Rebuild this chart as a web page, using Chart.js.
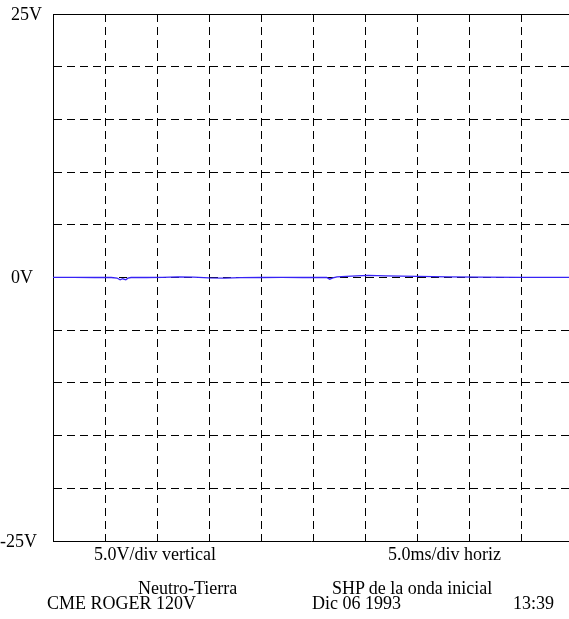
<!DOCTYPE html>
<html lang="es">
  <head>
    <meta charset="UTF-8" />
    <title>Neutro-Tierra</title>
    <style>
      html, body { margin: 0; padding: 0; background: #fff; overflow: hidden; }
      .wrap { position: relative; width: 569px; height: 619px; }
      .cap {
        position: absolute;
        font-family: "Liberation Serif", "Times New Roman", serif;
        font-size: 18px;
        line-height: 18px;
        color: #000;
        white-space: nowrap;
      }
    </style>
  </head>
  <body>
    <div class="wrap">
      <canvas id="scope" width="569" height="619"></canvas>
      <div class="cap" style="left:94px;top:545px">5.0V/div vertical</div>
      <div class="cap" style="left:388px;top:545px">5.0ms/div horiz</div>
      <div class="cap" style="left:138px;top:579px">Neutro-Tierra</div>
      <div class="cap" style="left:332px;top:579px">SHP de la onda inicial</div>
      <div class="cap" style="left:47px;top:594px">CME ROGER 120V</div>
      <div class="cap" style="left:312px;top:594px">Dic 06 1993</div>
      <div class="cap" style="left:513px;top:594px">13:39</div>
    </div>
    <script src="https://cdn.jsdelivr.net/npm/chart.js"></script>
    <script>
      // trace sampled off the screen (time in ms, amplitude in V)
      const timeMs = [0, 2, 4, 5.6, 6.15, 6.45, 6.7, 7.0, 7.2, 7.5, 9, 10.5, 12, 13.5, 15, 16.5, 18, 20, 22, 24, 26.3, 26.6, 26.9, 27.3, 28.2, 29.2, 30.3, 32, 35, 38, 41, 45, 49.6];
      const volts = [0.02, 0.02, 0, 0, -0.05, -0.22, -0.12, -0.22, -0.06, 0, 0, 0.02, 0.05, 0.03, -0.03, -0.05, -0.02, 0, 0.02, 0, 0, -0.16, -0.04, 0.05, 0.1, 0.15, 0.2, 0.16, 0.1, 0.06, 0.03, 0.02, 0.02];

      const yTickValues = [25, 0, -25];
      const yTickLabels = ["25V", "0V", "-25V"];

      // the screen is cut off just before the last division
      const xMax = 49.6;

      const yLabels = {
        id: "yLabels",
        afterDraw(chart) {
          const ctx = chart.ctx;
          const y = chart.scales.y;
          ctx.save();
          ctx.font = '18px "Liberation Serif", serif';
          ctx.fillStyle = "#000";
          ctx.textBaseline = "middle";
          ctx.textAlign = "left";
          const dash = ctx.measureText("-").width;
          yTickValues.forEach((v, i) => {
            const txt = yTickLabels[i];
            let x = 11;
            if (txt.startsWith("-")) x -= dash + 5;
            ctx.fillText(txt, x, y.getPixelForValue(v) + 1);
          });
          ctx.restore();
        },
      };

      const gridLook = { color: "#000", lineWidth: 1, drawTicks: false };

      new Chart(document.getElementById("scope"), {
        type: "line",
        data: {
          datasets: [
            {
              data: timeMs.map((t, i) => ({ x: t, y: volts[i] })),
              borderColor: "rgb(55, 35, 245)",
              borderWidth: 1.3,
              pointRadius: 0,
              tension: 0,
            },
          ],
        },
        options: {
          responsive: false,
          animation: false,
          events: [],
          layout: { padding: { top: 14, bottom: 78, left: 0, right: 0 } },
          plugins: { legend: { display: false }, tooltip: { enabled: false } },
          scales: {
            x: {
              type: "linear",
              min: 0,
              max: xMax,
              ticks: { display: false, stepSize: 5, includeBounds: false },
              grid: gridLook,
              border: { color: "#000", width: 1, dash: [8, 5] },
              afterFit: (s) => { s.height = 0; },
            },
            x2: {
              type: "linear",
              position: "top",
              min: 0,
              max: xMax,
              ticks: { display: false },
              grid: { display: false, drawTicks: false },
              border: { color: "#000", width: 1 },
              afterFit: (s) => { s.height = 0; },
            },
            y: {
              min: -25,
              max: 25,
              ticks: { display: false, stepSize: 5 },
              grid: gridLook,
              border: { color: "#000", width: 1, dash: [8, 5] },
              afterFit: (s) => { s.width = 53; },
            },
          },
        },
        plugins: [yLabels],
      });
    </script>
  </body>
</html>
